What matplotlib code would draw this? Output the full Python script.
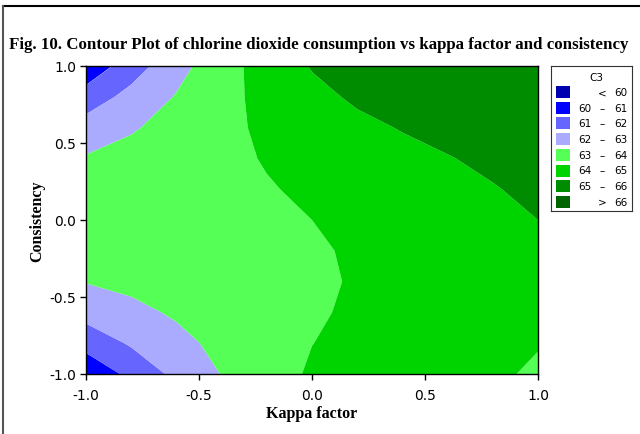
import numpy as np
import matplotlib
matplotlib.use("Agg")
import matplotlib.pyplot as plt
from matplotlib.patches import Rectangle
from matplotlib.lines import Line2D

# Data: C3 response on a grid of kappa factor (x) and consistency (y)
kappa = [-1.0, -0.8, -0.6, -0.4, -0.2, 0.0, 0.2, 0.4, 0.6, 0.8, 1.0]
consistency = [1.0, 0.8, 0.6, 0.4, 0.2, 0.0, -0.2, -0.4, -0.6, -0.8, -1.0]
c3 = [
    [60.25, 61.53, 62.65, 63.61, 64.41, 65.06, 65.54, 65.87, 65.97, 65.98, 65.90],
    [61.46, 62.31, 63.06, 63.71, 64.28, 64.75, 65.14, 65.43, 65.62, 65.73, 65.74],
    [62.41, 62.90, 63.36, 63.78, 64.16, 64.50, 64.79, 65.05, 65.26, 65.44, 65.58],
    [63.08, 63.33, 63.57, 63.81, 64.05, 64.28, 64.51, 64.74, 64.96, 65.18, 65.40],
    [63.47, 63.57, 63.68, 63.81, 63.95, 64.12, 64.30, 64.50, 64.72, 64.95, 65.20],
    [63.60, 63.63, 63.69, 63.77, 63.87, 64.00, 64.15, 64.33, 64.53, 64.75, 65.00],
    [63.45, 63.52, 63.60, 63.69, 63.80, 63.93, 64.07, 64.22, 64.40, 64.58, 64.78],
    [63.04, 63.23, 63.41, 63.58, 63.75, 63.90, 64.05, 64.19, 64.32, 64.44, 64.56],
    [62.35, 62.76, 63.12, 63.43, 63.70, 63.92, 64.10, 64.22, 64.30, 64.33, 64.32],
    [61.39, 62.11, 62.73, 63.25, 63.67, 63.99, 64.21, 64.32, 64.34, 64.25, 64.07],
    [60.16, 61.29, 62.24, 63.03, 63.65, 64.10, 64.38, 64.49, 64.43, 64.21, 63.81],
]
levels = [50, 60, 61, 62, 63, 64, 65, 66, 80]
legend_labels = [("", "<", "60"), ("60", "\u2013", "61"), ("61", "\u2013", "62"),
                 ("62", "\u2013", "63"), ("63", "\u2013", "64"), ("64", "\u2013", "65"),
                 ("65", "\u2013", "66"), ("", ">", "66")]
colors = ["#0000b0", "#0000ff", "#6666ff", "#aaaaff", "#55ff55", "#00d400", "#008c00", "#006400"]
ticks = [-1.0, -0.5, 0.0, 0.5, 1.0]
tick_labels = ["-1.0", "-0.5", "0.0", "0.5", "1.0"]

W, H = 640, 435
fig = plt.figure(figsize=(W / 100, H / 100), dpi=100)

ax = fig.add_axes([86 / W, 1 - 375 / H, (538 - 86) / W, (375 - 67) / H])
X, Y = np.meshgrid(kappa, consistency)
ax.contourf(X, Y, np.array(c3), levels=levels, colors=colors, antialiased=True)
ax.set_xlim(-1, 1)
ax.set_ylim(-1, 1)
ax.set_xticks(ticks)
ax.set_xticklabels(tick_labels)
ax.set_yticks(ticks)
ax.set_yticklabels(tick_labels)
ax.tick_params(direction="out", length=4, width=1, labelsize=10, colors="black")
ax.tick_params(axis="x", pad=6)
ax.tick_params(axis="y", pad=3)
for sp in ax.spines.values():
    sp.set_linewidth(1.0)
    sp.set_color("black")

serif = ["Liberation Serif", "DejaVu Serif"]
ax.set_xlabel("Kappa factor", fontsize=11.5, fontweight="bold", family=serif, labelpad=2)
ax.set_ylabel("Consistency", fontsize=11.5, fontweight="bold", family=serif, labelpad=3)

fig.text(9 / W, 1 - 45 / H,
         "Fig. 10. Contour Plot of chlorine dioxide consumption vs kappa factor and consistency",
         fontsize=12.2, fontweight="bold", family=serif, ha="left", va="center")

# figure frame lines
fig.add_artist(Line2D([2.5 / W, 1], [1 - 7 / H, 1 - 7 / H], color="black", lw=1.5, transform=fig.transFigure))
fig.add_artist(Line2D([2.5 / W, 2.5 / W], [0, 1 - 7 / H], color="#555555", lw=1.5, transform=fig.transFigure))

# legend box
lx0, lx1, ly0, ly1 = 551, 632, 67, 212
lax = fig.add_axes([lx0 / W, 1 - ly1 / H, (lx1 - lx0) / W, (ly1 - ly0) / H])
lax.set_xlim(lx0, lx1)
lax.set_ylim(ly1, ly0)
lax.set_xticks([])
lax.set_yticks([])
for sp in lax.spines.values():
    sp.set_linewidth(0.8)
    sp.set_color("#333333")
lfs = 7.5
lax.text(596, 78, "C3", fontsize=lfs, ha="center", va="center")
for i, ((a, d, b), c) in enumerate(zip(legend_labels, colors)):
    yt = 87 + i * 15.7
    lax.add_patch(Rectangle((556, yt), 14, 12, facecolor=c, edgecolor="none"))
    yc = yt + 6
    if a:
        lax.text(578, yc, a, fontsize=lfs, ha="left", va="center")
    lax.text(602, yc, d, fontsize=lfs, ha="center", va="center")
    lax.text(614, yc, b, fontsize=lfs, ha="left", va="center")

fig.savefig("out.png", dpi=100)
